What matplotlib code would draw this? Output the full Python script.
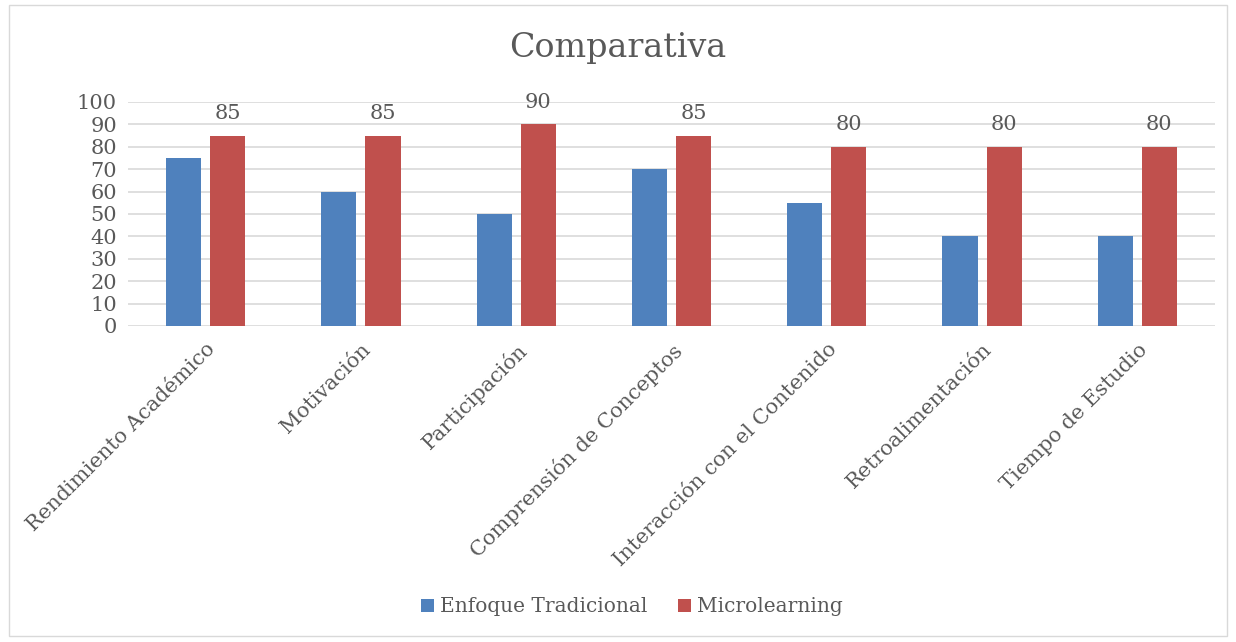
import numpy as np
import matplotlib.pyplot as plt
from matplotlib.patches import Rectangle

categories = [
    "Rendimiento Académico",
    "Motivación",
    "Participación",
    "Comprensión de Conceptos",
    "Interacción con el Contenido",
    "Retroalimentación",
    "Tiempo de Estudio",
]
tradicional = [75, 60, 50, 70, 55, 40, 40]
microlearning = [85, 85, 90, 85, 80, 80, 80]
series_names = ["Enfoque Tradicional", "Microlearning"]

blue = "#4F81BD"
red = "#C0504D"
text_col = "#595959"
grid_col = "#D9D9D9"

plt.rcParams["font.family"] = ["DejaVu Serif"]

fig = plt.figure(figsize=(12.36, 6.42), dpi=100)
fig.patches.append(Rectangle((0.007, 0.009), 0.986, 0.983, transform=fig.transFigure,
                             fill=False, edgecolor="#D9D9D9", linewidth=1))
ax = fig.add_axes([128 / 1236, 1 - 326 / 642, (1215 - 128) / 1236, (326 - 102) / 642])

x = np.arange(len(categories))
w = 0.226
off = 0.142
ax.bar(x - off, tradicional, w, color=blue, label=series_names[0], zorder=3)
bars = ax.bar(x + off, microlearning, w, color=red, label=series_names[1], zorder=3)
for b, v in zip(bars, microlearning):
    ax.annotate(str(v), (b.get_x() + b.get_width() / 2, v), xytext=(0, 9),
                textcoords="offset points", ha="center", va="bottom",
                fontsize=15, color=text_col)

ax.set_xlim(-0.5, len(categories) - 0.5)
ax.set_ylim(0, 100)
ax.set_yticks(range(0, 101, 10))
ax.yaxis.grid(True, color=grid_col, linewidth=1.2, zorder=0)
ax.set_axisbelow(True)
for s in ax.spines.values():
    s.set_visible(False)
ax.tick_params(axis="y", length=0, labelsize=15, colors=text_col, pad=8)
ax.set_xticks(x)
ax.set_xticklabels(categories, rotation=45, ha="right", va="top",
                   rotation_mode="anchor", fontsize=15, color=text_col)
ax.tick_params(axis="x", length=0, pad=10)

fig.text(0.5, 1 - 48 / 642, "Comparativa", ha="center", va="center",
         fontsize=24, color=text_col)
fig.legend(loc="center", bbox_to_anchor=(632 / 1236, 1 - 607 / 642), ncol=2, frameon=False,
           fontsize=14.5, labelcolor=text_col, handlelength=0.65, handleheight=0.65,
           handletextpad=0.3, columnspacing=1.5)

fig.savefig("out.png", dpi=100, facecolor="white")
